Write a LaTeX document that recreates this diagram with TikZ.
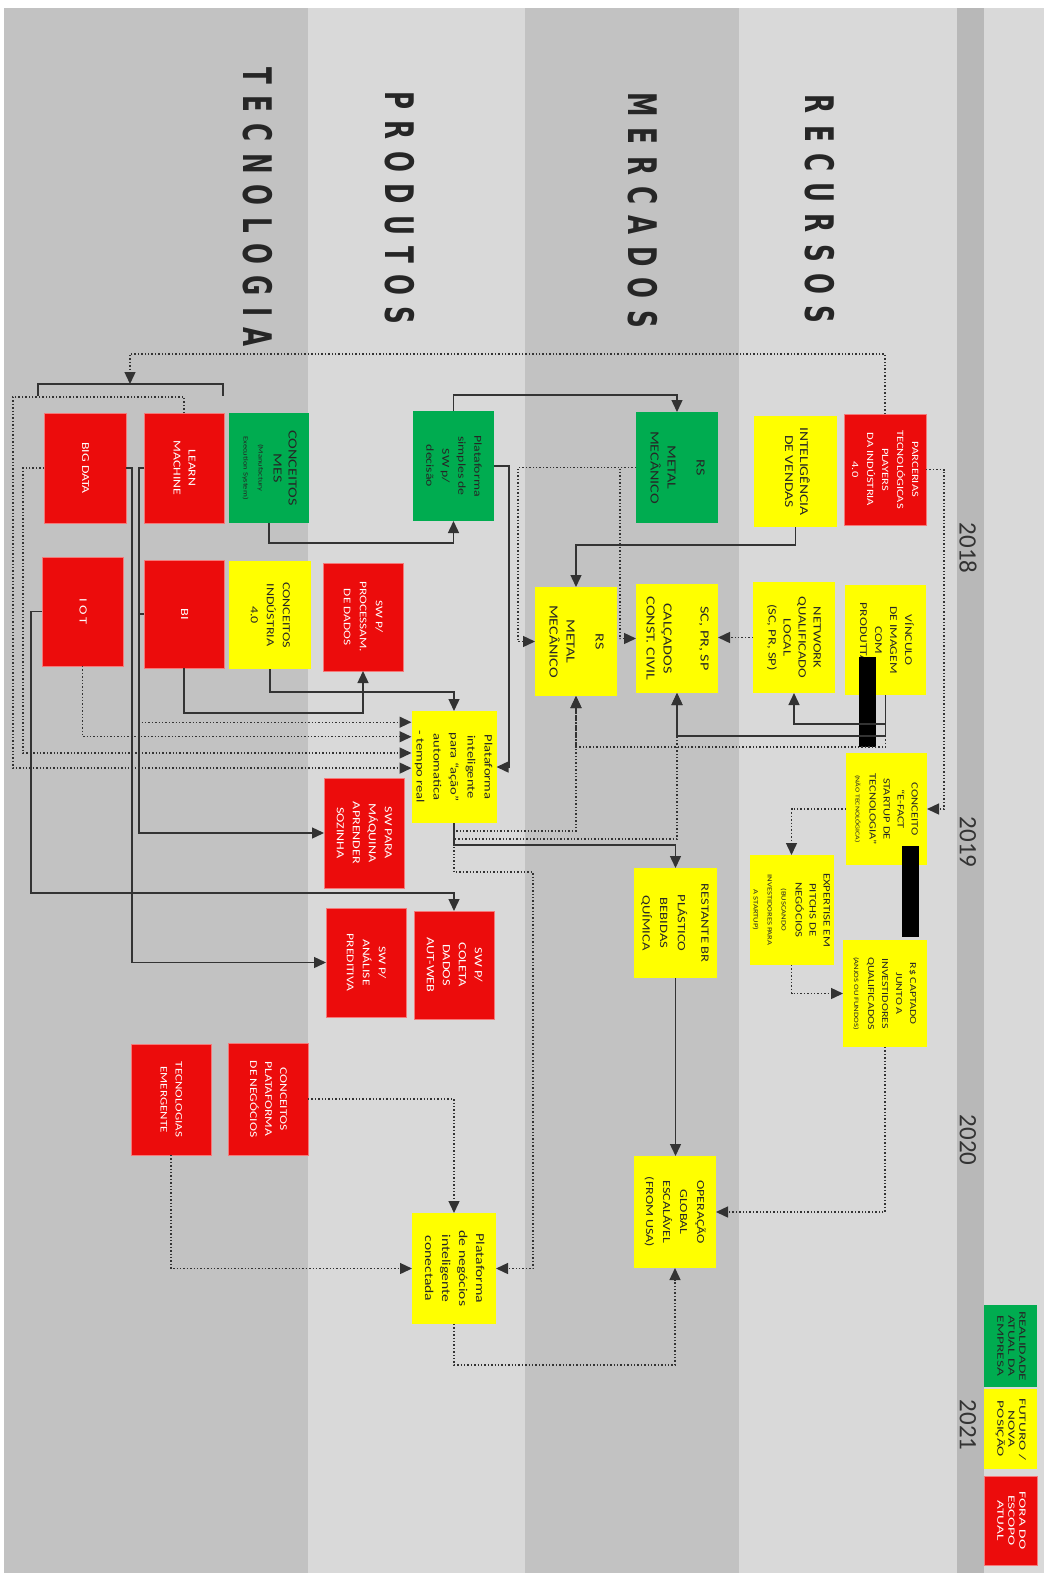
\documentclass[tikz,border=0pt]{standalone}
\usepackage{fontspec}
\setmainfont{Carlito}
\newfontfamily\bandfont[LetterSpace=46]{DejaVu Sans}
\usepackage{graphicx}
\usetikzlibrary{arrows.meta,calc}
\definecolor{fora}{RGB}{236,12,12}
\definecolor{real}{RGB}{0,172,80}
\definecolor{futuro}{RGB}{255,255,0}
\definecolor{bandA}{RGB}{194,194,194}
\definecolor{bandB}{RGB}{217,217,217}
\definecolor{timebar}{RGB}{184,184,184}
\newcommand{\rt}[2][1.3]{\rotatebox{-90}{\scalebox{#1}[1]{\begin{tabular}{@{}c@{}}#2\end{tabular}}}}
\newcommand{\bandtxt}[1]{\rotatebox{-90}{\scalebox{1}[1.6]{#1}}}

\begin{document}
\begin{tikzpicture}[x=0.5pt, y=-0.5pt,
    box/.style={inner sep=0pt, outer sep=0pt, font=\fontsize{5.5}{7.5}\selectfont},
    sz/.style 2 args={minimum width=#1*0.5pt, minimum height=#2*0.5pt},
    rbox/.style={box, fill=fora, draw=fora!55!white, line width=0.4pt, text=white},
    gbox/.style={box, fill=real, text=black!85},
    ybox/.style={box, fill=futuro, text=black!85},
    band/.style={inner sep=0pt, font=\bandfont\bfseries\fontsize{12.3}{12.3}\selectfont, text=black!85},
    year/.style={inner sep=0pt, font=\fontsize{12.5}{12.5}\selectfont, text=black!80},
    line/.style={draw=black!80, line width=0.7pt},
    arr/.style={line, -{Triangle[length=6pt,width=5.5pt]}},
    darr/.style={arr, densely dotted},
]
\useasboundingbox (0,0) rectangle (1044,1573);
% Background bands
\fill[white] (0,0) rectangle (1044,1573);
\fill[bandB] (4,8) rectangle (1044,1573);
\fill[bandA] (4,8) rectangle (308,1573);
\fill[bandA] (525,8) rectangle (739,1573);
\fill[timebar] (957,8) rectangle (984,1573);

% Band titles and years
\node[band] (tTec) at (258,207) {\bandtxt{TECNOLOGIA}};
\node[band] (tProd) at (400,208) {\bandtxt{PRODUTOS}};
\node[band] (tMerc) at (643,210) {\bandtxt{MERCADOS}};
\node[band] (tRec) at (820,209) {\bandtxt{RECURSOS}};
\node[year] (y18) at (968,548) {\rotatebox{-90}{2018}};
\node[year] (y19) at (968,842) {\rotatebox{-90}{2019}};
\node[year] (y20) at (968,1140) {\rotatebox{-90}{2020}};
\node[year] (y21) at (968,1425) {\rotatebox{-90}{2021}};

% Legend
\node[gbox, sz={53}{82}, font=\fontsize{4.8}{5.5}\selectfont] (leg1) at (1010.5,1346) {\rt[1.6]{REALIDADE\\ATUAL DA\\EMPRESA}};
\node[ybox, sz={53}{80}, font=\fontsize{4.8}{5.5}\selectfont] (leg2) at (1010.5,1429) {\rt[1.6]{FUTURO /\\NOVA\\POSIÇÃO}};
\node[rbox, sz={53}{89}, font=\fontsize{4.8}{5.5}\selectfont] (leg3) at (1010.5,1520.5) {\rt[1.6]{FORA DO\\ESCOPO\\ATUAL}};

% Recursos
\node[rbox, sz={82}{111}, font=\fontsize{4.8}{7.5}\selectfont] (parc) at (885,469.5) {\rt{PARCERIAS\\TECNOLÓGICAS\\PLAYERS\\DA INDÚSTRIA\\4.0}};
\node[ybox, sz={83}{111}, font=\fontsize{6}{7.5}\selectfont] (intel) at (795.5,471.5) {\rt{INTELIGÊNCIA\\DE VENDAS}};
\node[ybox, sz={81}{110}, font=\fontsize{5.2}{7.5}\selectfont] (vinc) at (885.5,640) {\rt{VÍNCULO\\DE IMAGEM\\COM\\PRODUTTARE}};
\node[ybox, sz={82}{111}, font=\fontsize{5.6}{7.5}\selectfont] (netw) at (794,637.5) {\rt{NETWORK\\QUALIFICADO\\LOCAL\\(SC, PR, SP)}};
\node[ybox, sz={81}{112}, font=\fontsize{4.8}{7}\selectfont] (efact) at (886.5,809) {\rt{CONCEITO\\“E-FACT\\STARTUP DE\\TECNOLOGIA”\\{\fontsize{3}{4}\selectfont (NÃO TECNOLÓGICA)}}};
\node[ybox, sz={83}{110}, font=\fontsize{4.9}{7}\selectfont] (expert) at (791.5,910) {\rt{EXPERTISE EM\\PITCHS DE\\NEGÓCIOS\\{\fontsize{3.3}{4.5}\selectfont (BUSCANDO}\\{\fontsize{3.3}{4.5}\selectfont INVESTIDORES PARA}\\{\fontsize{3.3}{4.5}\selectfont A STARTUP)}}};
\node[ybox, sz={84}{107}, font=\fontsize{4.6}{7}\selectfont] (capt) at (885,993.5) {\rt{R\$ CAPTADO\\JUNTO A\\INVESTIDORES\\QUALIFICADOS\\{\fontsize{3.3}{4.5}\selectfont (ANJOS OU FUNDOS)}}};
\fill[black] (859,657) rectangle (876,747);
\fill[black] (902,846) rectangle (919,937);

% Mercados
\node[gbox, sz={82}{111}, font=\fontsize{6.2}{8.5}\selectfont] (rsg) at (677,467.5) {\rt{RS\\[6pt]METAL\\MECÂNICO}};
\node[ybox, sz={82}{109}, font=\fontsize{6.2}{8.5}\selectfont] (scpr) at (677,638.5) {\rt{SC, PR, SP\\[10pt]CALÇADOS\\CONST. CIVIL}};
\node[ybox, sz={82}{109}, font=\fontsize{6.2}{8.5}\selectfont] (rsy) at (576,641.5) {\rt{RS\\[6pt]METAL\\MECÂNICO}};
\node[ybox, sz={83}{110}, font=\fontsize{5.6}{8.8}\selectfont] (rest) at (675.5,923) {\rt{RESTANTE BR\\[3pt]PLÁSTICO\\BEBIDAS\\QUÍMICA}};
\node[ybox, sz={82}{112}, font=\fontsize{5.4}{8.5}\selectfont] (oper) at (675,1212) {\rt{OPERAÇÃO\\GLOBAL\\ESCALÁVEL\\(FROM USA)}};

% Produtos
\node[gbox, sz={81}{110}, font=\fontsize{5.3}{8}\selectfont] (psimp) at (453.5,466) {\rt{Plataforma\\simples de\\SW p/\\decisão}};
\node[rbox, sz={80}{108}, font=\fontsize{5.1}{8}\selectfont] (swproc) at (363,617) {\rt{SW P/\\PROCESSAM.\\DE DADOS}};
\node[ybox, sz={82}{112}, font=\fontsize{5.6}{8.5}\selectfont] (pint) at (454,767) {\rt{Plataforma\\inteligente\\para “ação”\\automatica\\- tempo real}};
\node[rbox, sz={80}{110}, font=\fontsize{5.4}{8}\selectfont] (swmaq) at (364,833) {\rt{SW PARA\\MÁQUINA\\APRENDER\\SOZINHA}};
\node[rbox, sz={80}{108}, font=\fontsize{5.5}{8}\selectfont] (swcol) at (454,965) {\rt{SW P/\\COLETA\\DADOS\\AUT-WEB}};
\node[rbox, sz={80}{109}, font=\fontsize{5.2}{8}\selectfont] (swana) at (366,962.5) {\rt{SW P/\\ANÁLISE\\PREDITIVA}};
\node[ybox, sz={84}{111}, font=\fontsize{6}{8.5}\selectfont] (pneg) at (454,1268.5) {\rt{Plataforma\\de negócios\\inteligente\\conectada}};

% Tecnologia
\node[gbox, sz={80}{110}, font=\fontsize{6.2}{7.5}\selectfont] (mes) at (269,468) {\rt{CONCEITOS\\MES\\{\fontsize{3.3}{4.5}\selectfont (Manufactury}\\{\fontsize{3.3}{4.5}\selectfont Execution System)}}};
\node[rbox, sz={80}{110}, font=\fontsize{5.3}{7.5}\selectfont] (learn) at (184,468) {\rt{LEARN\\MACHINE}};
\node[rbox, sz={82}{110}, font=\fontsize{5.3}{7.5}\selectfont] (bigd) at (85,468) {\rt{BIG DATA}};
\node[ybox, sz={82}{108}, font=\fontsize{5.4}{8}\selectfont] (ind) at (270,615) {\rt{CONCEITOS\\INDÚSTRIA\\4.0}};
\node[rbox, sz={80}{108}] (bi) at (184,614) {\rt{BI}};
\node[rbox, sz={81}{109}] (iot) at (82.5,611.5) {\rt{I O T}};
\node[rbox, sz={80}{112}, font=\fontsize{5.2}{7.5}\selectfont] (cpn) at (268,1099) {\rt{CONCEITOS\\PLATAFORMA\\DE NEGÓCIOS}};
\node[rbox, sz={80}{111}, font=\fontsize{5}{7.5}\selectfont] (temer) at (171,1099.5) {\rt{TECNOLOGIAS\\EMERGENTE}};

% Bracket over learn machine / big data
\draw[line] (38,396) -- (38,384) -- (223,384) -- (223,396);
\coordinate (brk) at (130,384);
% Entry points on the left side of the smart platform
\coordinate (pin1) at ($(pint.north west)!0.10!(pint.south west)$);
\coordinate (pin2) at ($(pint.north west)!0.23!(pint.south west)$);
\coordinate (pin3) at ($(pint.north west)!0.375!(pint.south west)$);
\coordinate (pin4) at ($(pint.north west)!0.51!(pint.south west)$);

% Connectors: recursos
\draw[darr] (parc.north) -- ++(0,-60) -| (brk);
\draw[darr] (parc.east) -- ++(18,0) |- (efact.east);
\draw[arr] (intel.south) -- ++(0,18) -| (rsy.north);
\draw[darr] (netw.west) -- (scpr.east |- netw.west);
\draw[arr] (vinc.south) -- ++(0,29) -| (netw.south);
\draw[arr] (vinc.south) -- ++(0,41) -| (scpr.south);
\draw[darr] (vinc.south) -- ++(0,52) -| (rsy.south);
\draw[darr] (efact.west) -| (expert.north);
\draw[darr] (expert.south) |- (capt.west);
\draw[darr] (capt.south) |- (oper.east);

% Connectors: mercados
\draw[darr] (rsg.west) -- ++(-118,0) |- (rsy.west);
\draw[darr] (rsg.west) -- ++(-16,0) |- (scpr.west);
\draw[arr] (rest.south) -- (rest.south |- oper.north);

% Connectors: produtos
\draw[arr] (psimp.north) -- ++(0,-16) -| (rsg.north);
\draw[arr] (psimp.east) -- ++(15,0) |- (pint.east);
\draw[darr] (pint.south) -- ++(0,8) -| (rsy.south);
\draw[darr] (pint.south) -- ++(0,16) -| (scpr.south);
\draw[arr] (pint.south) -- ++(0,22) -| (rest.north);
\draw[darr] (pint.south) -- ++(0,49) -- ++(79,0) |- (pneg.east);
\draw[darr] (pneg.south) -- ++(0,41) -| (oper.south);

% Connectors: tecnologia
\draw[arr] (mes.south) -- ++(0,20) -| (psimp.south);
\draw[arr] (ind.south) -- ++(0,23) -| (pint.north);
\draw[arr] (bi.south) -- ++(0,45) -| (swproc.south);
\draw[line] (bi.west) -- ++(-5,0);
\draw[arr] (learn.west) -- ++(-5,0) |- (swmaq.west);
\draw[darr] (learn.west) -- ++(-5,0) |- (pin1);
\draw[darr] (iot.south) |- (pin2);
\draw[darr] (bigd.west) -- ++(-21,0) |- (pin3);
\draw[darr] (learn.north) -- ++(0,-16) -- ++(-171,0) |- (pin4);
\draw[arr] (bigd.east) -- ++(6,0) |- (swana.west);
\draw[arr] (iot.west) -- ++(-11,0) -- ++(0,281.5) -| (swcol.north);
\draw[darr] (cpn.east) -| (pneg.north);
\draw[darr] (temer.south) |- (pneg.west);
\end{tikzpicture}
\end{document}
